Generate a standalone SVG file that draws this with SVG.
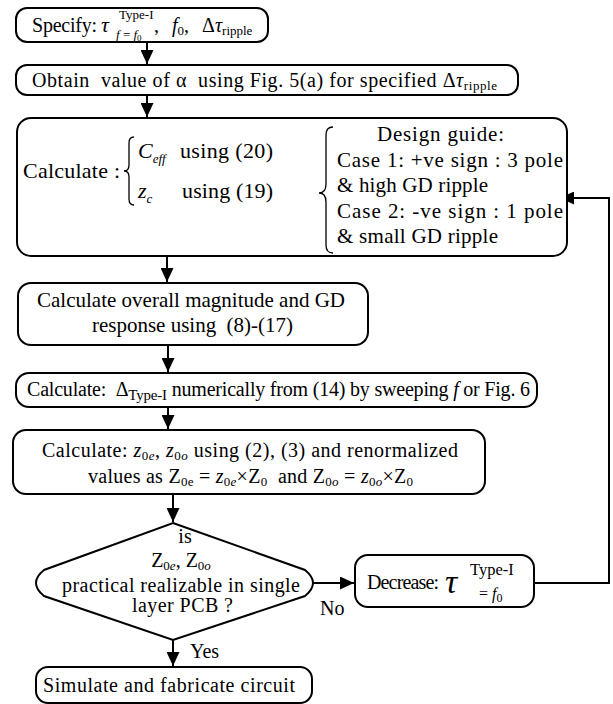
<svg xmlns="http://www.w3.org/2000/svg" width="613" height="704" viewBox="0 0 613 704">
<style>
.box{fill:#fff;stroke:#000;stroke-width:2}
.ln{fill:none;stroke:#000;stroke-width:2}
.br{fill:none;stroke:#000;stroke-width:1.3}
text{font-family:"Liberation Serif","Times New Roman",serif;font-size:20px;fill:#000}
.i{font-style:italic}
.s{font-size:13px}
.m{text-anchor:middle}
.g{font-size:21px}
</style>
<defs>
<marker id="ah" viewBox="0 0 14 13" refX="14" refY="6.5" markerWidth="14" markerHeight="13" markerUnits="userSpaceOnUse" orient="auto">
<path d="M0,0 L14,6.5 L0,13 z" fill="#000"/>
</marker>
</defs>
<g id="connectors">
<path class="ln" d="M147,42 V64" marker-end="url(#ah)"/>
<path class="ln" d="M147,95 V117" marker-end="url(#ah)"/>
<path class="ln" d="M167,256 V282" marker-end="url(#ah)"/>
<path class="ln" d="M168,345 V372" marker-end="url(#ah)"/>
<path class="ln" d="M168,407 V429" marker-end="url(#ah)"/>
<path class="ln" d="M173,494 V522" marker-end="url(#ah)"/>
<path class="ln" d="M173,640 V666" marker-end="url(#ah)"/>
<path class="ln" d="M313,583 H354" marker-end="url(#ah)"/>
<path class="ln" d="M534,583 H609 V198 H560" marker-end="url(#ah)"/>
<path class="ln" d="M273,193 H315" marker-end="url(#ah)"/>
<text x="320" y="615">No</text>
<text x="190" y="658">Yes</text>
</g>
<g id="n1">
<rect class="box" x="16" y="8" width="252" height="34" rx="11"/>
<text x="32" y="32" textLength="65">Specify:</text>
<text class="i" x="101" y="32" style="font-size:22px">τ</text>
<text class="s" x="119" y="19">Type-I</text>
<text class="s" x="116" y="39"><tspan class="i">f</tspan> = <tspan class="i">f</tspan><tspan font-size="9" dy="2">0</tspan></text>
<text x="154" y="32">,</text>
<text x="172" y="32"><tspan class="i">f</tspan><tspan class="s" dy="3">0</tspan><tspan dy="-3">,</tspan></text>
<text x="202" y="32">Δ<tspan class="i">τ</tspan><tspan class="s" dy="3">ripple</tspan></text>
</g>
<g id="n2">
<rect class="box" x="16" y="65" width="502" height="30" rx="11"/>
<text x="32" y="87" xml:space="preserve" textLength="465">Obtain  value of α  using Fig. 5(a) for specified Δ<tspan class="i">τ</tspan><tspan class="s" dy="3">ripple</tspan></text>
</g>
<g id="n3">
<rect class="box" x="17" y="118" width="550" height="138" rx="14"/>
<text x="23" y="178" style="font-size:22px" textLength="97">Calculate :</text>
<path class="br" d="M134,137 Q129,137 129,143 L129,165 Q129,171 124,171 Q129,171 129,177 L129,199 Q129,205 134,205"/>
<text x="138" y="158" style="font-size:22px"><tspan class="i">C</tspan><tspan class="i s" dy="5">eff</tspan></text>
<text x="180" y="158" style="font-size:22px" textLength="93">using (20)</text>
<text x="138" y="198" style="font-size:22px"><tspan class="i">z</tspan><tspan class="i s" dy="5">c</tspan></text>
<text x="182" y="198" style="font-size:22px" textLength="91">using (19)</text>
<path class="br" d="M333,127 Q326,127 326,135 L326,184 Q326,193 319,193 Q326,193 326,202 L326,245 Q326,253 333,253"/>
<text class="g" x="377" y="141" textLength="127">Design guide:</text>
<text class="g" x="337" y="167" textLength="226">Case 1: +ve sign : 3 pole</text>
<text class="g" x="337" y="192" textLength="151">&amp; high GD ripple</text>
<text class="g" x="337" y="218" textLength="226">Case 2: -ve sign : 1 pole</text>
<text class="g" x="337" y="243" textLength="161">&amp; small GD ripple</text>
</g>
<g id="n4">
<rect class="box" x="18" y="283" width="350" height="62" rx="13"/>
<text class="g" x="37" y="307" textLength="308">Calculate overall magnitude and GD</text>
<text class="g" x="92" y="332" xml:space="preserve" textLength="201">response using  (8)-(17)</text>
</g>
<g id="n5">
<rect class="box" x="16" y="373" width="521" height="34" rx="13"/>
<text x="27" y="396" xml:space="preserve" textLength="503">Calculate:  Δ<tspan dy="4" font-size="15">Type-I</tspan><tspan dy="-4"> numerically from (14) by sweeping </tspan><tspan class="i">f</tspan> or Fig. 6</text>
</g>
<g id="n6">
<rect class="box" x="13" y="430" width="472" height="64" rx="13"/>
<text x="42" y="457" style="font-size:20px" textLength="416">Calculate: <tspan class="i">z</tspan><tspan class="s" dy="3">0<tspan class="i">e</tspan></tspan><tspan dy="-3">, </tspan><tspan class="i">z</tspan><tspan class="s" dy="3">0<tspan class="i">o</tspan></tspan><tspan dy="-3"> using (2), (3) and renormalized</tspan></text>
<text x="88" y="483" style="font-size:20px" xml:space="preserve" textLength="325">values as Z<tspan class="s" dy="3">0e</tspan><tspan dy="-3"> = </tspan><tspan class="i">z</tspan><tspan class="s" dy="3">0<tspan class="i">e</tspan></tspan><tspan dy="-3">×Z</tspan><tspan class="s" dy="3">0</tspan><tspan dy="-3">  and Z</tspan><tspan class="s" dy="3">0<tspan class="i">o</tspan></tspan><tspan dy="-3"> = </tspan><tspan class="i">z</tspan><tspan class="s" dy="3">0<tspan class="i">o</tspan></tspan><tspan dy="-3">×Z</tspan><tspan class="s" dy="3">0</tspan></text>
</g>
<g id="n7">
<path class="box" d="M173,523 L305,570 Q321,583 305,596 L173,640 L44,596 Q28,583 44,570 Z"/>
<text class="m" x="185" y="543">is</text>
<text class="m" x="181" y="567">Z<tspan class="s" dy="3">0<tspan class="i">e</tspan></tspan><tspan dy="-3">, Z</tspan><tspan class="s" dy="3">0<tspan class="i">o</tspan></tspan></text>
<text x="62" y="592" textLength="238">practical realizable in single</text>
<text x="132" y="612" textLength="101">layer PCB ?</text>
</g>
<g id="n8">
<rect class="box" x="355" y="555" width="179" height="52" rx="13"/>
<text x="367" y="589" textLength="72">Decrease:</text>
<text class="i" x="445" y="593" style="font-size:34px">τ</text>
<text x="470" y="575" style="font-size:16.5px">Type-I</text>
<text x="479" y="599" style="font-size:16px">= <tspan class="i">f</tspan><tspan font-size="12" dy="3">0</tspan></text>
</g>
<g id="n9">
<rect class="box" x="36" y="667" width="276" height="36" rx="12"/>
<text x="43" y="692" textLength="252">Simulate and fabricate circuit</text>
</g>
</svg>
